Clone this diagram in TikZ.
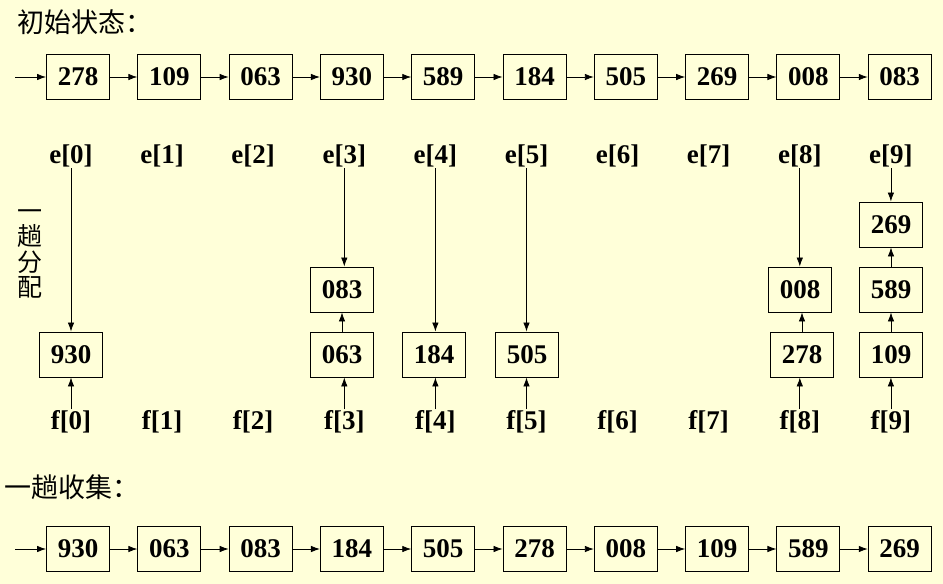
\documentclass[tikz,border=0pt]{standalone}
\usepackage{fontspec}
\setmainfont{Liberation Serif}
\newfontfamily\cjk{Noto Sans CJK SC}
\usetikzlibrary{arrows.meta}
\definecolor{bg}{HTML}{FFFFD9}
\begin{document}
\begin{tikzpicture}[x=1pt,y=-1pt,
  numbox/.style={draw, line width=0.9pt, minimum width=63pt, minimum height=45pt, inner sep=0pt, font=\fontsize{27}{27}\selectfont\bfseries},
  lbl/.style={font=\fontsize{27}{27}\selectfont\bfseries, inner sep=1pt},
  arr/.style={-{Latex[length=9pt,width=6.5pt]}, line width=0.8pt},
  ttl/.style={font=\cjk\fontsize{27}{27}\selectfont, anchor=west, inner sep=0pt}]
\fill[bg] (0,0) rectangle (943,584);
\useasboundingbox (0,0) rectangle (943,584);
% titles
\node[ttl] (t1) at (17,22) {初始状态：};
\node[ttl] (t2) at (4,487) {一趟收集：};
\node[font=\cjk\fontsize{25}{25.5}\selectfont, align=center, inner sep=0pt] (v) at (30,254) {一\\趟\\分\\配};
% top row
\foreach \v [count=\i from 0] in {278,109,063,930,589,184,505,269,008,083}
  \node[numbox] (a\i) at ({78+91.3*\i},77) {\v};
\coordinate (as) at (15,77);
\draw[arr] (as) -- (a0.west);
\foreach \i [evaluate=\i as \j using int(\i+1)] in {0,...,8}
  \draw[arr] (a\i.east) -- (a\j.west);
% bottom row
\foreach \v [count=\i from 0] in {930,063,083,184,505,278,008,109,589,269}
  \node[numbox] (b\i) at ({78+91.3*\i},549) {\v};
\coordinate (bs) at (15,549);
\draw[arr] (bs) -- (b0.west);
\foreach \i [evaluate=\i as \j using int(\i+1)] in {0,...,8}
  \draw[arr] (b\i.east) -- (b\j.west);
% e and f labels
\foreach \i in {0,...,9}{
  \node[lbl] (e\i) at ({71+91.1*\i},156) {e[\i]};
  \node[lbl] (f\i) at ({71+91.1*\i},422) {f[\i]};
}
% distribution boxes
\node[numbox] (d00) at (71,354.5) {930};
\node[numbox] (d30) at (342,354.5) {063};
\node[numbox] (d31) at (342,289.5) {083};
\node[numbox] (d40) at (434,354.5) {184};
\node[numbox] (d50) at (527,354.5) {505};
\node[numbox] (d80) at (802,354.5) {278};
\node[numbox] (d81) at (800,289.5) {008};
\node[numbox] (d90) at (891,354.5) {109};
\node[numbox] (d91) at (891,289.5) {589};
\node[numbox] (d92) at (891,224.5) {269};
% e arrows
\draw[arr] (e0.south) -- (e0.south |- d00.north);
\draw[arr] (e3.south) -- (e3.south |- d31.north);
\draw[arr] (e4.south) -- (e4.south |- d40.north);
\draw[arr] (e5.south) -- (e5.south |- d50.north);
\draw[arr] (e8.south) -- (e8.south |- d81.north);
\draw[arr] (e9.south) -- (e9.south |- d92.north);
% chain arrows
\draw[arr] (d30.north) -- (d30.north |- d31.south);
\draw[arr] (d80.north) -- (d80.north |- d81.south);
\draw[arr] (d90.north) -- (d91.south);
\draw[arr] (d91.north) -- (d92.south);
% f arrows
\draw[arr] (f0.north) -- (f0.north |- d00.south);
\draw[arr] (f3.north) -- (f3.north |- d30.south);
\draw[arr] (f4.north) -- (f4.north |- d40.south);
\draw[arr] (f5.north) -- (f5.north |- d50.south);
\draw[arr] (f8.north) -- (f8.north |- d80.south);
\draw[arr] (f9.north) -- (f9.north |- d90.south);
\end{tikzpicture}
\end{document}
